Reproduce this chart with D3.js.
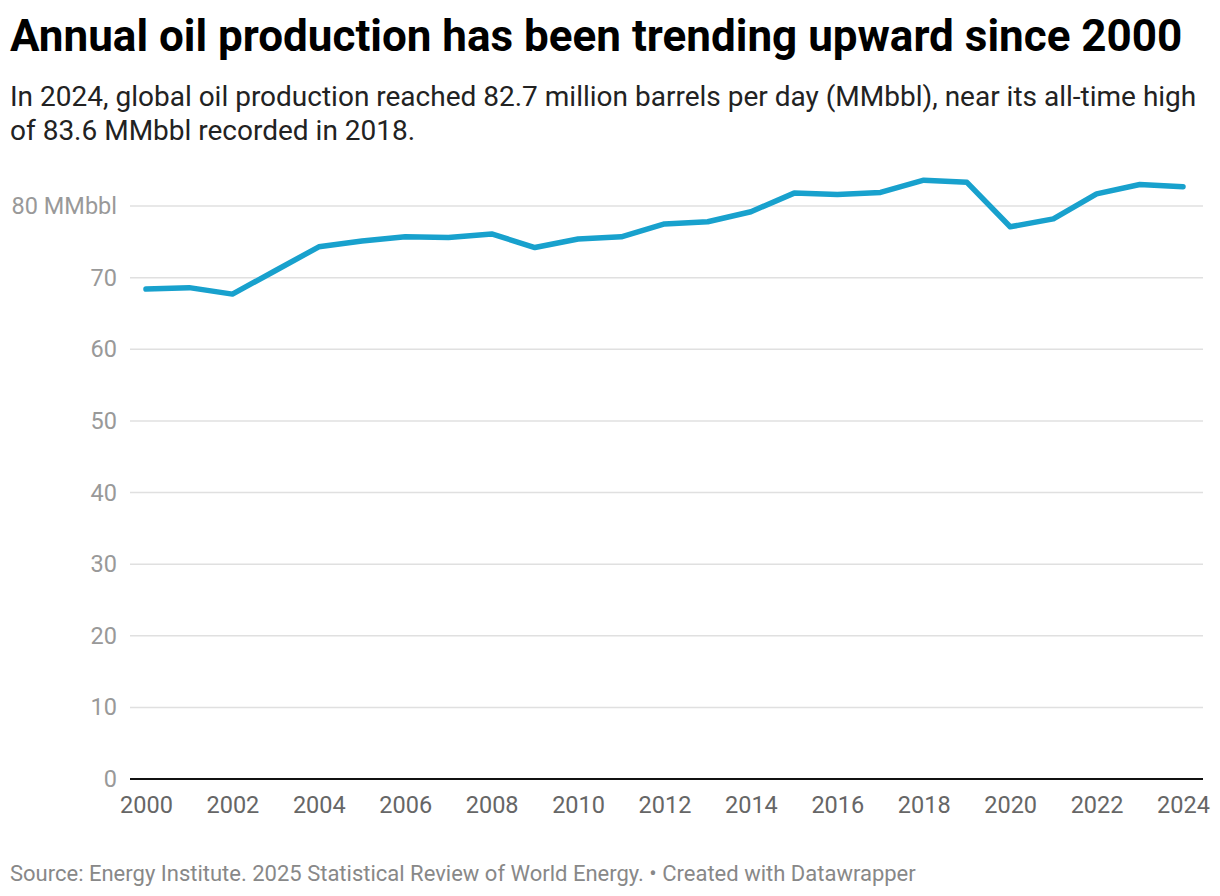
<!DOCTYPE html>
<html>
<head>
<meta charset="utf-8">
<script src="https://cdn.jsdelivr.net/npm/d3@7"></script>
<style>
  body { margin: 0; background: #fff; }
  text { font-family: Roboto, "Noto Sans", sans-serif; }
</style>
</head>
<body>
<svg id="chart" width="1220" height="896"></svg>
<script>
// data, million barrels per day
const years = [2000, 2001, 2002, 2003, 2004, 2005, 2006, 2007, 2008, 2009, 2010, 2011, 2012,
  2013, 2014, 2015, 2016, 2017, 2018, 2019, 2020, 2021, 2022, 2023, 2024]
const production = [68.4, 68.6, 67.7, 71.0, 74.3, 75.1, 75.7, 75.6, 76.1, 74.2, 75.4, 75.7, 77.5,
  77.8, 79.2, 81.8, 81.6, 81.9, 83.6, 83.3, 77.1, 78.2, 81.7, 83.0, 82.7]
const yTicks = [0, 10, 20, 30, 40, 50, 60, 70, 80]
const xTicks = [2000, 2002, 2004, 2006, 2008, 2010, 2012, 2014, 2016, 2018, 2020, 2022, 2024]

const title = 'Annual oil production has been trending upward since 2000'
const subtitle = ['In 2024, global oil production reached 82.7 million barrels per day (MMbbl), near its all-time high',
  'of 83.6 MMbbl recorded in 2018.']
const source = 'Source: Energy Institute. 2025 Statistical Review of World Energy. • Created with Datawrapper'

const svg = d3.select('#chart')

// header
svg.append('text').attr('x', 10).attr('y', 51)
  .attr('font-size', 44).attr('font-weight', 700).attr('fill', '#000')
  .text(title)
subtitle.forEach((s, i) => {
  svg.append('text').attr('x', 10).attr('y', 106 + i * 34)
    .attr('font-size', 28).attr('fill', '#222')
    .text(s)
})

// plot area
const left = 130, right = 1203
const scX = d3.scaleLinear().domain([2000, 2024]).range([146, 1183])
const scY = d3.scaleLinear().domain([0, 80]).range([779, 206])

// grid lines
const grid = svg.append('g')
grid.selectAll('line').data(yTicks.filter(d => d > 0)).enter().append('line')
  .attr('x1', left).attr('x2', right)
  .attr('y1', d => scY(d)).attr('y2', d => scY(d))
  .attr('stroke', '#e0e0e0').attr('stroke-width', 1.5)

// y labels
svg.append('g').selectAll('text').data(yTicks).enter().append('text')
  .attr('x', 117).attr('y', d => scY(d) + 8)
  .attr('text-anchor', 'end').attr('font-size', 23.5).attr('fill', '#999')
  .text(d => d === 80 ? '80 MMbbl' : d)

// baseline
svg.append('line').attr('x1', left).attr('x2', right)
  .attr('y1', scY(0)).attr('y2', scY(0))
  .attr('stroke', '#111').attr('stroke-width', 2)

// x axis
const xAxis = d3.axisBottom(scX).tickValues(xTicks).tickFormat(d3.format('d')).tickSize(0).tickPadding(17)
const gx = svg.append('g').attr('transform', `translate(0, ${scY(0)})`).call(xAxis)
gx.select('.domain').remove()
gx.selectAll('text').attr('font-size', 23.5).attr('fill', '#666')
  .style('font-family', 'Roboto, "Noto Sans", sans-serif')

// line
const makeLine = d3.line().x((d, i) => scX(years[i])).y(d => scY(d))
svg.append('path')
  .attr('d', makeLine(production))
  .attr('fill', 'none')
  .attr('stroke', '#18a1cd')
  .attr('stroke-width', 5.5)
  .attr('stroke-linejoin', 'round')
  .attr('stroke-linecap', 'round')

// footer
svg.append('text').attr('x', 10).attr('y', 881)
  .attr('font-size', 22).attr('fill', '#888')
  .text(source)
</script>
</body>
</html>
